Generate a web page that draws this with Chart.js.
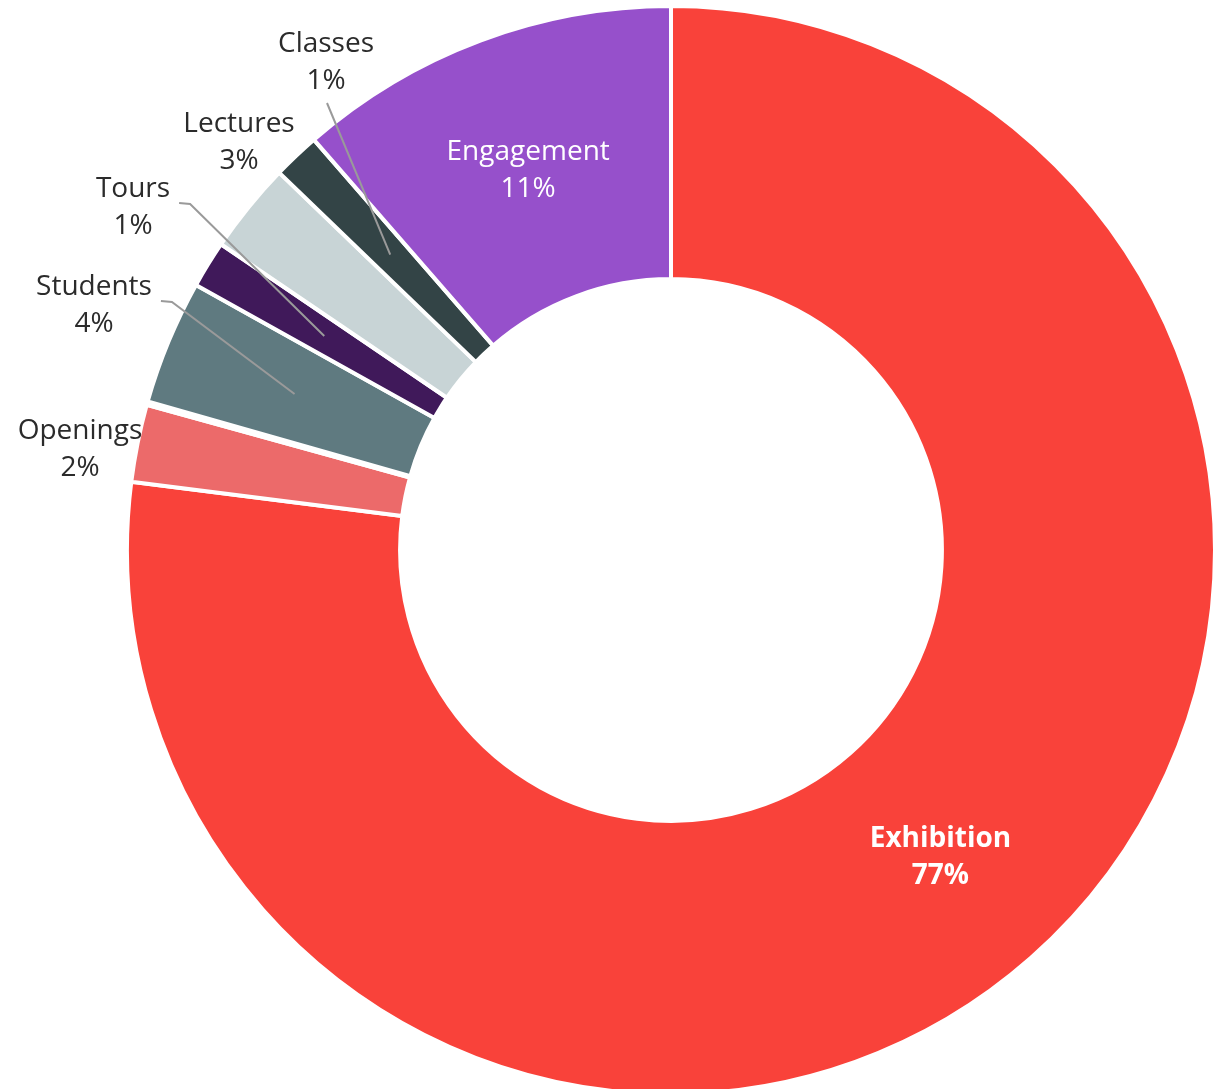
<!DOCTYPE html>
<html>
<head>
<meta charset="utf-8">
<script src="https://cdn.jsdelivr.net/npm/chart.js@4.4.0/dist/chart.umd.min.js"></script>
<style>
    html, body { margin: 0; padding: 0; background: #fff; overflow: hidden; }
    #wrap { width: 1222px; height: 1100px; }
</style>
</head>
<body>
<div id="wrap"><canvas id="c1" width="1222" height="1100"></canvas></div>
<script>
const CATEGORIES = ['Exhibition', 'Openings', 'Other', 'Students', 'Tours', 'Lectures', 'Classes', 'Engagement'];
const SHARES = [77.0, 2.3, 0.1, 3.7, 1.4, 2.7, 1.4, 11.4];
const COLORS = ['#F9423A', '#EC6A6A', '#C9E2A6', '#5F7A80', '#40195A', '#C8D4D6', '#334446', '#9650CB'];

// where each label goes (offsets from the chart centre for the outside ones)
const LABEL_SPOTS = {
    Exhibition: { inside: true, bold: true },
    Engagement: { inside: true },
    Classes:  { dx: -345, dy: -508, leader: 'straight' },
    Lectures: { dx: -432, dy: -428 },
    Tours:    { dx: -538, dy: -363, leader: 'elbow' },
    Students: { dx: -577, dy: -265, leader: 'elbow' },
    Openings: { dx: -591, dy: -121 }
};

const sliceLabels = {
    id: 'sliceLabels',
    afterDatasetsDraw(chart, args, opts){
        const ctx = chart.ctx;
        const meta = chart.getDatasetMeta(0);
        const values = chart.data.datasets[0].data;
        const lineGap = 37;
        const nudge = 2;
        ctx.save();
        ctx.textAlign = 'center';
        ctx.textBaseline = 'middle';
        meta.data.forEach((arc, i) => {
            const name = chart.data.labels[i];
            const spot = opts.spots[name];
            if(!spot) return;
            const pct = Math.round(values[i]) + '%';
            const mid = arc.tooltipPosition();
            ctx.font = (spot.bold ? 'bold ' : '') + '28px "Open Sans"';
            if(spot.inside){
                ctx.fillStyle = '#ffffff';
                ctx.fillText(name, mid.x, mid.y - lineGap / 2 + nudge);
                ctx.fillText(pct, mid.x, mid.y + lineGap / 2 + nudge);
                return;
            }
            const x = arc.x + spot.dx;
            const y = arc.y + spot.dy;
            if(spot.leader){
                ctx.strokeStyle = '#9a9a9a';
                ctx.lineWidth = 2;
                ctx.beginPath();
                if(spot.leader == 'straight'){
                    ctx.moveTo(x + 1, y + lineGap + 24);
                }else{
                    const sx = x + ctx.measureText(name).width / 2 + 9;
                    ctx.moveTo(sx, y + 16);
                    ctx.lineTo(sx + 11, y + 17);
                }
                ctx.lineTo(mid.x, mid.y);
                ctx.stroke();
            }
            ctx.fillStyle = '#2b2b2b';
            ctx.fillText(name, x, y + nudge);
            ctx.fillText(pct, x, y + lineGap + nudge);
        });
        ctx.restore();
    }
};

new Chart(document.getElementById('c1').getContext('2d'), {
    type: 'doughnut',
    data: {
        labels: CATEGORIES,
        datasets: [{
            data: SHARES,
            backgroundColor: COLORS,
            borderColor: '#ffffff',
            borderWidth: 4,
            hoverOffset: 0
        }]
    },
    options: {
        responsive: false,
        animation: false,
        cutout: '49.8%',
        layout: {
            padding: { left: 125, right: 5, top: 4, bottom: 4 }
        },
        plugins: {
            legend: { display: false },
            tooltip: { enabled: false },
            sliceLabels: { spots: LABEL_SPOTS }
        }
    },
    plugins: [sliceLabels]
});
</script>
</body>
</html>
